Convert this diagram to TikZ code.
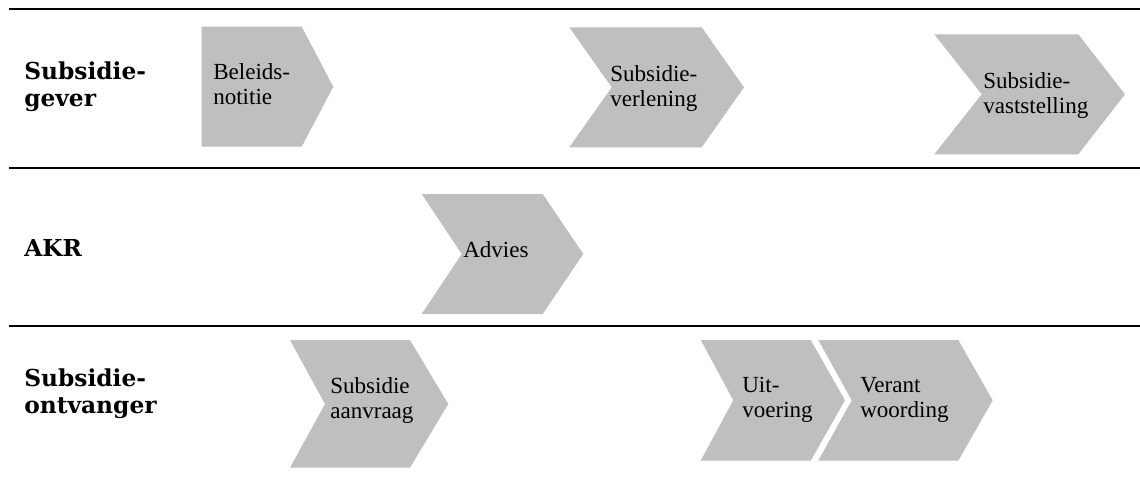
\documentclass[tikz,border=0pt]{standalone}
\usepackage{fontspec}
\setmainfont{Liberation Serif}
\newfontfamily\lanefont{DejaVu Serif}
\definecolor{stepgray}{HTML}{BFBFBF}
\tikzset{
  lane/.style={line width=1.1pt, draw=black},
  stepshape/.style={fill=stepgray, draw=none},
  steptext/.style={anchor=west, align=left, inner sep=0pt, font=\fontsize{17.3}{18.75}\selectfont},
  lanetext/.style={anchor=west, align=left, inner sep=0pt, font=\lanefont\bfseries\fontsize{17.5}{20}\selectfont}
}
\begin{document}
\begin{tikzpicture}[x=0.75pt,y=-0.75pt]
\useasboundingbox (0,0) rectangle (1140,479);
% lane separators
\coordinate (l1a) at (9,9);   \coordinate (l1b) at (1140,9);
\coordinate (l2a) at (9,168); \coordinate (l2b) at (1140,168);
\coordinate (l3a) at (9,326); \coordinate (l3b) at (1140,326);
\draw[lane] (l1a) -- (l1b);
\draw[lane] (l2a) -- (l2b);
\draw[lane] (l3a) -- (l3b);
% lane labels
\node[lanetext] (lgever) at (24,87) {Subsidie-\\gever};
\node[lanetext] (lakr) at (24,248) {AKR};
\node[lanetext] (lontv) at (24,394) {Subsidie-\\ontvanger};
% shapes
\fill[stepshape] (201.7,26.7) -- (301.7,26.7) -- (333.3,86.7) -- (301.7,146.7) -- (201.7,146.7) -- cycle;
\fill[stepshape] (569.3,27.3) -- (701.7,27.3) -- (744,87.3) -- (701.7,147.3) -- (569.3,147.3) -- (611.7,87.3) -- cycle;
\fill[stepshape] (934.3,34.3) -- (1078.3,34.3) -- (1125,94.3) -- (1078.3,154.3) -- (934.3,154.3) -- (981.7,94.3) -- cycle;
\fill[stepshape] (421.7,194) -- (542.7,194) -- (583.3,254) -- (542.7,314) -- (421.7,314) -- (461.7,254) -- cycle;
\fill[stepshape] (290,340) -- (410,340) -- (448.3,404) -- (410,467.7) -- (290,467.7) -- (325,404) -- cycle;
\fill[stepshape] (700.7,340) -- (810.7,340) -- (845,400.3) -- (810.7,460.7) -- (700.7,460.7) -- (733.3,400.3) -- cycle;
\fill[stepshape] (818.3,340) -- (958.3,340) -- (992.7,400.3) -- (958.3,460.7) -- (818.3,460.7) -- (851.7,400.3) -- cycle;
% step texts
\node[steptext] (beleid) at (213,84) {Beleids-\\notitie};
\node[steptext] (verlen) at (610,88.5) {Subsidie-\\verlening};
\node[steptext] (vast) at (983,95.5) {Subsidie-\\vaststelling};
\node[steptext] (advies) at (463,250) {Advies};
\node[steptext] (aanvr) at (330,400) {Subsidie\\aanvraag};
\node[steptext] (uitv) at (742,400) {Uit-\\voering};
\node[steptext] (verant) at (860,400) {Verant\\woording};
\end{tikzpicture}
\end{document}
